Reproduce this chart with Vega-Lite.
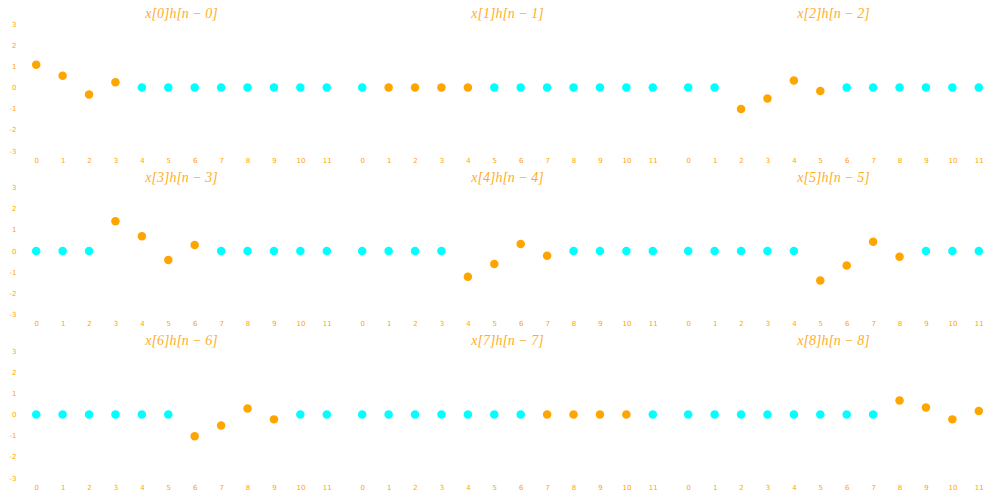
{
  "$schema": "https://vega.github.io/schema/vega-lite/v6.json",
  "padding": {"left": 9, "top": 7, "right": 5, "bottom": 5},
  "background": "white",
  "data": {
    "values": [
      {"k":0,"n":0,"v":1.08,"s":"nz"},{"k":0,"n":1,"v":0.56,"s":"nz"},{"k":0,"n":2,"v":-0.33,"s":"nz"},{"k":0,"n":3,"v":0.25,"s":"nz"},
      {"k":0,"n":4,"v":0,"s":"z"},{"k":0,"n":5,"v":0,"s":"z"},{"k":0,"n":6,"v":0,"s":"z"},{"k":0,"n":7,"v":0,"s":"z"},{"k":0,"n":8,"v":0,"s":"z"},{"k":0,"n":9,"v":0,"s":"z"},{"k":0,"n":10,"v":0,"s":"z"},{"k":0,"n":11,"v":0,"s":"z"},
      {"k":1,"n":0,"v":0,"s":"z"},{"k":1,"n":1,"v":0,"s":"nz"},{"k":1,"n":2,"v":0,"s":"nz"},{"k":1,"n":3,"v":0,"s":"nz"},{"k":1,"n":4,"v":0,"s":"nz"},
      {"k":1,"n":5,"v":0,"s":"z"},{"k":1,"n":6,"v":0,"s":"z"},{"k":1,"n":7,"v":0,"s":"z"},{"k":1,"n":8,"v":0,"s":"z"},{"k":1,"n":9,"v":0,"s":"z"},{"k":1,"n":10,"v":0,"s":"z"},{"k":1,"n":11,"v":0,"s":"z"},
      {"k":2,"n":0,"v":0,"s":"z"},{"k":2,"n":1,"v":0,"s":"z"},{"k":2,"n":2,"v":-1.02,"s":"nz"},{"k":2,"n":3,"v":-0.52,"s":"nz"},{"k":2,"n":4,"v":0.33,"s":"nz"},{"k":2,"n":5,"v":-0.17,"s":"nz"},
      {"k":2,"n":6,"v":0,"s":"z"},{"k":2,"n":7,"v":0,"s":"z"},{"k":2,"n":8,"v":0,"s":"z"},{"k":2,"n":9,"v":0,"s":"z"},{"k":2,"n":10,"v":0,"s":"z"},{"k":2,"n":11,"v":0,"s":"z"},
      {"k":3,"n":0,"v":0,"s":"z"},{"k":3,"n":1,"v":0,"s":"z"},{"k":3,"n":2,"v":0,"s":"z"},{"k":3,"n":3,"v":1.41,"s":"nz"},{"k":3,"n":4,"v":0.70,"s":"nz"},{"k":3,"n":5,"v":-0.42,"s":"nz"},{"k":3,"n":6,"v":0.28,"s":"nz"},
      {"k":3,"n":7,"v":0,"s":"z"},{"k":3,"n":8,"v":0,"s":"z"},{"k":3,"n":9,"v":0,"s":"z"},{"k":3,"n":10,"v":0,"s":"z"},{"k":3,"n":11,"v":0,"s":"z"},
      {"k":4,"n":0,"v":0,"s":"z"},{"k":4,"n":1,"v":0,"s":"z"},{"k":4,"n":2,"v":0,"s":"z"},{"k":4,"n":3,"v":0,"s":"z"},{"k":4,"n":4,"v":-1.22,"s":"nz"},{"k":4,"n":5,"v":-0.61,"s":"nz"},{"k":4,"n":6,"v":0.33,"s":"nz"},{"k":4,"n":7,"v":-0.22,"s":"nz"},
      {"k":4,"n":8,"v":0,"s":"z"},{"k":4,"n":9,"v":0,"s":"z"},{"k":4,"n":10,"v":0,"s":"z"},{"k":4,"n":11,"v":0,"s":"z"},
      {"k":5,"n":0,"v":0,"s":"z"},{"k":5,"n":1,"v":0,"s":"z"},{"k":5,"n":2,"v":0,"s":"z"},{"k":5,"n":3,"v":0,"s":"z"},{"k":5,"n":4,"v":0,"s":"z"},{"k":5,"n":5,"v":-1.39,"s":"nz"},{"k":5,"n":6,"v":-0.69,"s":"nz"},{"k":5,"n":7,"v":0.44,"s":"nz"},{"k":5,"n":8,"v":-0.27,"s":"nz"},
      {"k":5,"n":9,"v":0,"s":"z"},{"k":5,"n":10,"v":0,"s":"z"},{"k":5,"n":11,"v":0,"s":"z"},
      {"k":6,"n":0,"v":0,"s":"z"},{"k":6,"n":1,"v":0,"s":"z"},{"k":6,"n":2,"v":0,"s":"z"},{"k":6,"n":3,"v":0,"s":"z"},{"k":6,"n":4,"v":0,"s":"z"},{"k":6,"n":5,"v":0,"s":"z"},{"k":6,"n":6,"v":-1.03,"s":"nz"},{"k":6,"n":7,"v":-0.52,"s":"nz"},{"k":6,"n":8,"v":0.28,"s":"nz"},{"k":6,"n":9,"v":-0.23,"s":"nz"},
      {"k":6,"n":10,"v":0,"s":"z"},{"k":6,"n":11,"v":0,"s":"z"},
      {"k":7,"n":0,"v":0,"s":"z"},{"k":7,"n":1,"v":0,"s":"z"},{"k":7,"n":2,"v":0,"s":"z"},{"k":7,"n":3,"v":0,"s":"z"},{"k":7,"n":4,"v":0,"s":"z"},{"k":7,"n":5,"v":0,"s":"z"},{"k":7,"n":6,"v":0,"s":"z"},{"k":7,"n":7,"v":0,"s":"nz"},{"k":7,"n":8,"v":0,"s":"nz"},{"k":7,"n":9,"v":0,"s":"nz"},{"k":7,"n":10,"v":0,"s":"nz"},
      {"k":7,"n":11,"v":0,"s":"z"},
      {"k":8,"n":0,"v":0,"s":"z"},{"k":8,"n":1,"v":0,"s":"z"},{"k":8,"n":2,"v":0,"s":"z"},{"k":8,"n":3,"v":0,"s":"z"},{"k":8,"n":4,"v":0,"s":"z"},{"k":8,"n":5,"v":0,"s":"z"},{"k":8,"n":6,"v":0,"s":"z"},{"k":8,"n":7,"v":0,"s":"z"},{"k":8,"n":8,"v":0.66,"s":"nz"},{"k":8,"n":9,"v":0.33,"s":"nz"},{"k":8,"n":10,"v":-0.23,"s":"nz"},{"k":8,"n":11,"v":0.16,"s":"nz"}
    ]
  },
  "facet": {
    "field": "k",
    "type": "ordinal",
    "header": {
      "title": null,
      "labelExpr": "'x[' + datum.value + ']h[n − ' + datum.value + ']'",
      "labelFont": "Liberation Serif",
      "labelFontStyle": "italic",
      "labelFontSize": 14,
      "labelColor": "#FFAD1F",
      "labelPadding": 3
    }
  },
  "columns": 3,
  "spacing": {"row": 7.5, "column": 9},
  "resolve": {"axis": {"x": "independent"}},
  "spec": {
    "width": 317,
    "height": 127,
    "mark": {"type": "circle", "size": 72, "opacity": 1},
    "encoding": {
      "x": {
        "field": "n",
        "type": "quantitative",
        "scale": {"domain": [-0.5, 11.5], "nice": false, "zero": false},
        "axis": {"title": null, "values": [0,1,2,3,4,5,6,7,8,9,10,11], "domain": false, "ticks": false, "grid": false, "labelFontSize": 7, "labelColor": "#FFA500", "labelPadding": 5, "labelFlush": false}
      },
      "y": {
        "field": "v",
        "type": "quantitative",
        "scale": {"domain": [-3, 3], "nice": false},
        "axis": {"title": null, "values": [-3,-2,-1,0,1,2,3], "labelExpr": "replace(datum.label, '−', '-')", "domain": false, "ticks": false, "grid": false, "labelFontSize": 7, "labelColor": "#FFA500", "labelPadding": 7}
      },
      "color": {
        "field": "s",
        "type": "nominal",
        "scale": {"domain": ["nz", "z"], "range": ["#FFA500", "#00FFFF"]},
        "legend": null
      }
    }
  },
  "config": {
    "view": {"stroke": null},
    "font": "DejaVu Sans"
  }
}
